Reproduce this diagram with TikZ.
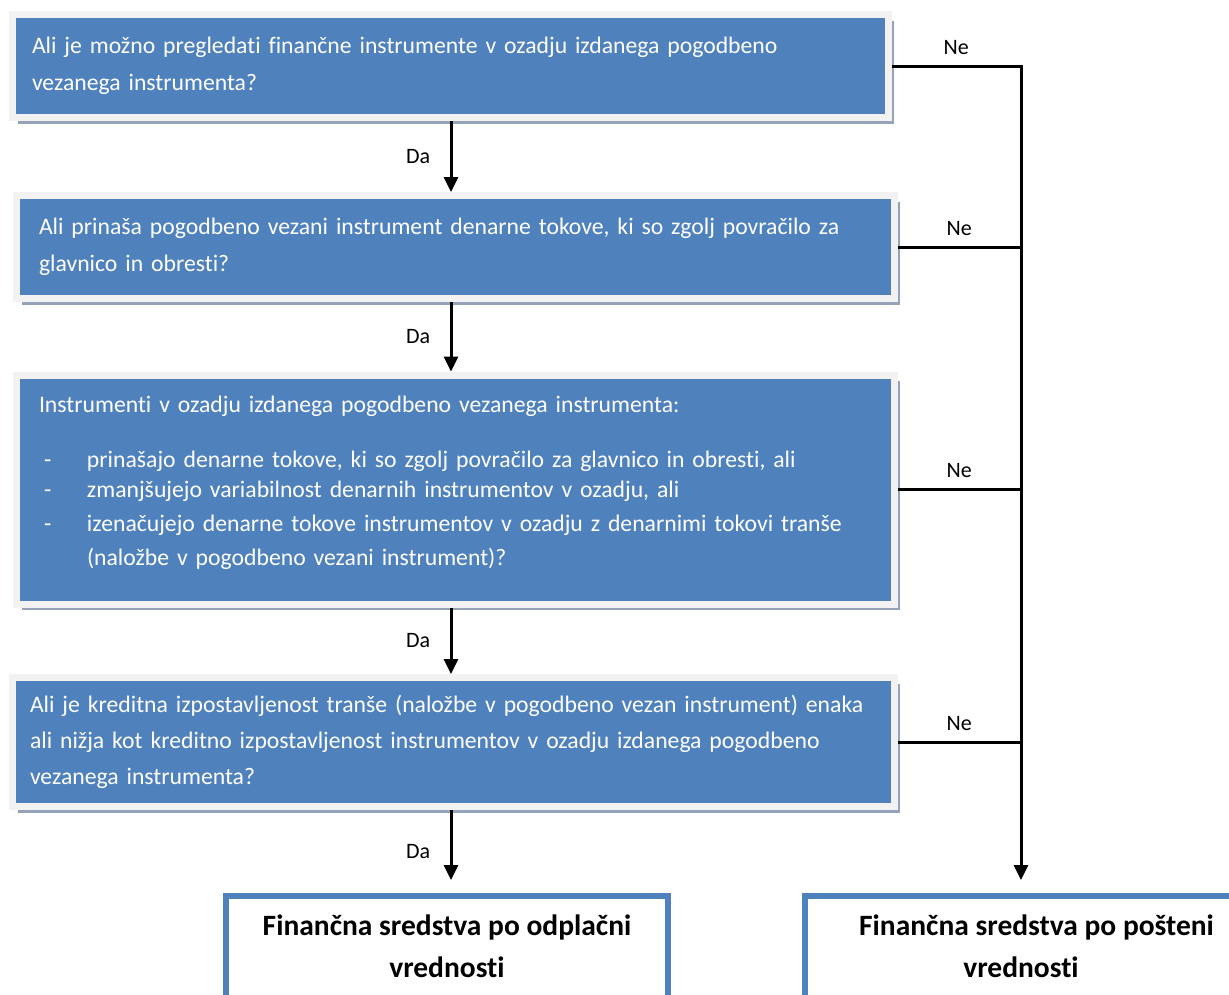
\documentclass[tikz,border=0pt]{standalone}
\usepackage{fontspec}
\setmainfont[Ligatures=NoCommon]{Carlito}
\usetikzlibrary{arrows.meta, positioning, shadows}

\definecolor{qblue}{HTML}{4F81BD}
\definecolor{qframe}{HTML}{F2F2F2}
\definecolor{qshadow}{HTML}{95A3B8}

\newcommand{\dashitem}{\makebox[48pt][l]{\hspace{5pt}-}}

\begin{document}
\begin{tikzpicture}[
    x=1pt, y=-1pt,
    qbox/.style={fill=qblue, draw=qframe, line width=7pt, text=white, align=left, inner sep=0pt,
        font=\fontsize{23.7}{37}\selectfont,
        drop shadow={shadow xshift=6pt, shadow yshift=-6pt, fill=qshadow, opacity=1}},
    result/.style={draw=qblue, line width=6pt, align=center, anchor=north, inner xsep=0pt, inner ysep=19pt,
        font=\bfseries\fontsize{29.5}{42}\selectfont},
    arrow/.style={-{Triangle[length=15pt,width=14pt]}, line width=3pt},
    rail/.style={line width=3pt},
    lbl/.style={font=\fontsize{22}{26}\selectfont}
]
\useasboundingbox (0,0) rectangle (1229,994);
\clip (0,0) rectangle (1229,994);

% Questions
\node[qbox, minimum width=876pt, minimum height=103pt, text width=836pt] (q1) at (450,66)
    {Ali je možno pregledati finančne instrumente v ozadju izdanega pogodbeno\\vezanega instrumenta?};
\node[qbox, minimum width=878pt, minimum height=103pt, text width=832pt] (q2) at (455,247)
    {Ali prinaša pogodbeno vezani instrument denarne tokove, ki so zgolj povračilo za\\glavnico in obresti?};
\node[qbox, minimum width=878pt, minimum height=229pt, text width=832pt, font=\fontsize{23.7}{34}\selectfont] (q3) at (455,489.5)
    {Instrumenti v ozadju izdanega pogodbeno vezanega instrumenta:\\[21pt]
     \dashitem prinašajo denarne tokove, ki so zgolj povračilo za glavnico in obresti, ali\\[-4pt]
     \dashitem zmanjšujejo variabilnost denarnih instrumentov v ozadju, ali\\
     \dashitem izenačujejo denarne tokove instrumentov v ozadju z denarnimi tokovi tranše\\
     \hspace*{48pt}(naložbe v pogodbeno vezani instrument)?\rule[-17.5pt]{0pt}{0pt}};
\node[qbox, minimum width=882pt, minimum height=129pt, text width=846pt, font=\fontsize{23.7}{36}\selectfont] (q4) at (453,742)
    {Ali je kreditna izpostavljenost tranše (naložbe v pogodbeno vezan instrument) enaka\\ali nižja kot kreditno izpostavljenost instrumentov v ozadju izdanega pogodbeno\\vezanega instrumenta?};

% Results
\node[result, minimum width=442pt] (amort) at (447,893)
    {Finančna sredstva po odplačni\\vrednosti\rule[-40pt]{0pt}{0pt}};
\node[result, minimum width=433pt] (fair) at (1021,893)
    {\hspace*{31pt}Finančna sredstva po pošteni\\vrednosti\rule[-40pt]{0pt}{0pt}};

% Arrows
\coordinate (spine) at (451,0);
\draw[arrow] (q1.south -| spine) -- node[lbl, left=16pt] (da1) {Da} (q2.north -| spine);
\draw[arrow] (q2.south -| spine) -- node[lbl, left=16pt] (da2) {Da} (q3.north -| spine);
\draw[arrow] (q3.south -| spine) -- node[lbl, left=16pt] (da3) {Da} (q4.north -| spine);
\draw[arrow, shorten >=13pt] (q4.south -| spine) -- node[lbl, left=16pt] (da4) {Da} (amort.north -| spine);

\draw[arrow, shorten >=13pt] (q1.east) -- node[lbl, above=7pt] (ne1) {Ne} (q1.east -| fair.north) -- (fair.north);
\draw[rail] (q2.east) -- node[lbl, above=7pt] (ne2) {Ne} (q2.east -| fair.north);
\draw[rail] (q3.east) -- node[lbl, above=7pt] (ne3) {Ne} (q3.east -| fair.north);
\draw[rail] (q4.east) -- node[lbl, above=7pt] (ne4) {Ne} (q4.east -| fair.north);

\end{tikzpicture}
\end{document}
